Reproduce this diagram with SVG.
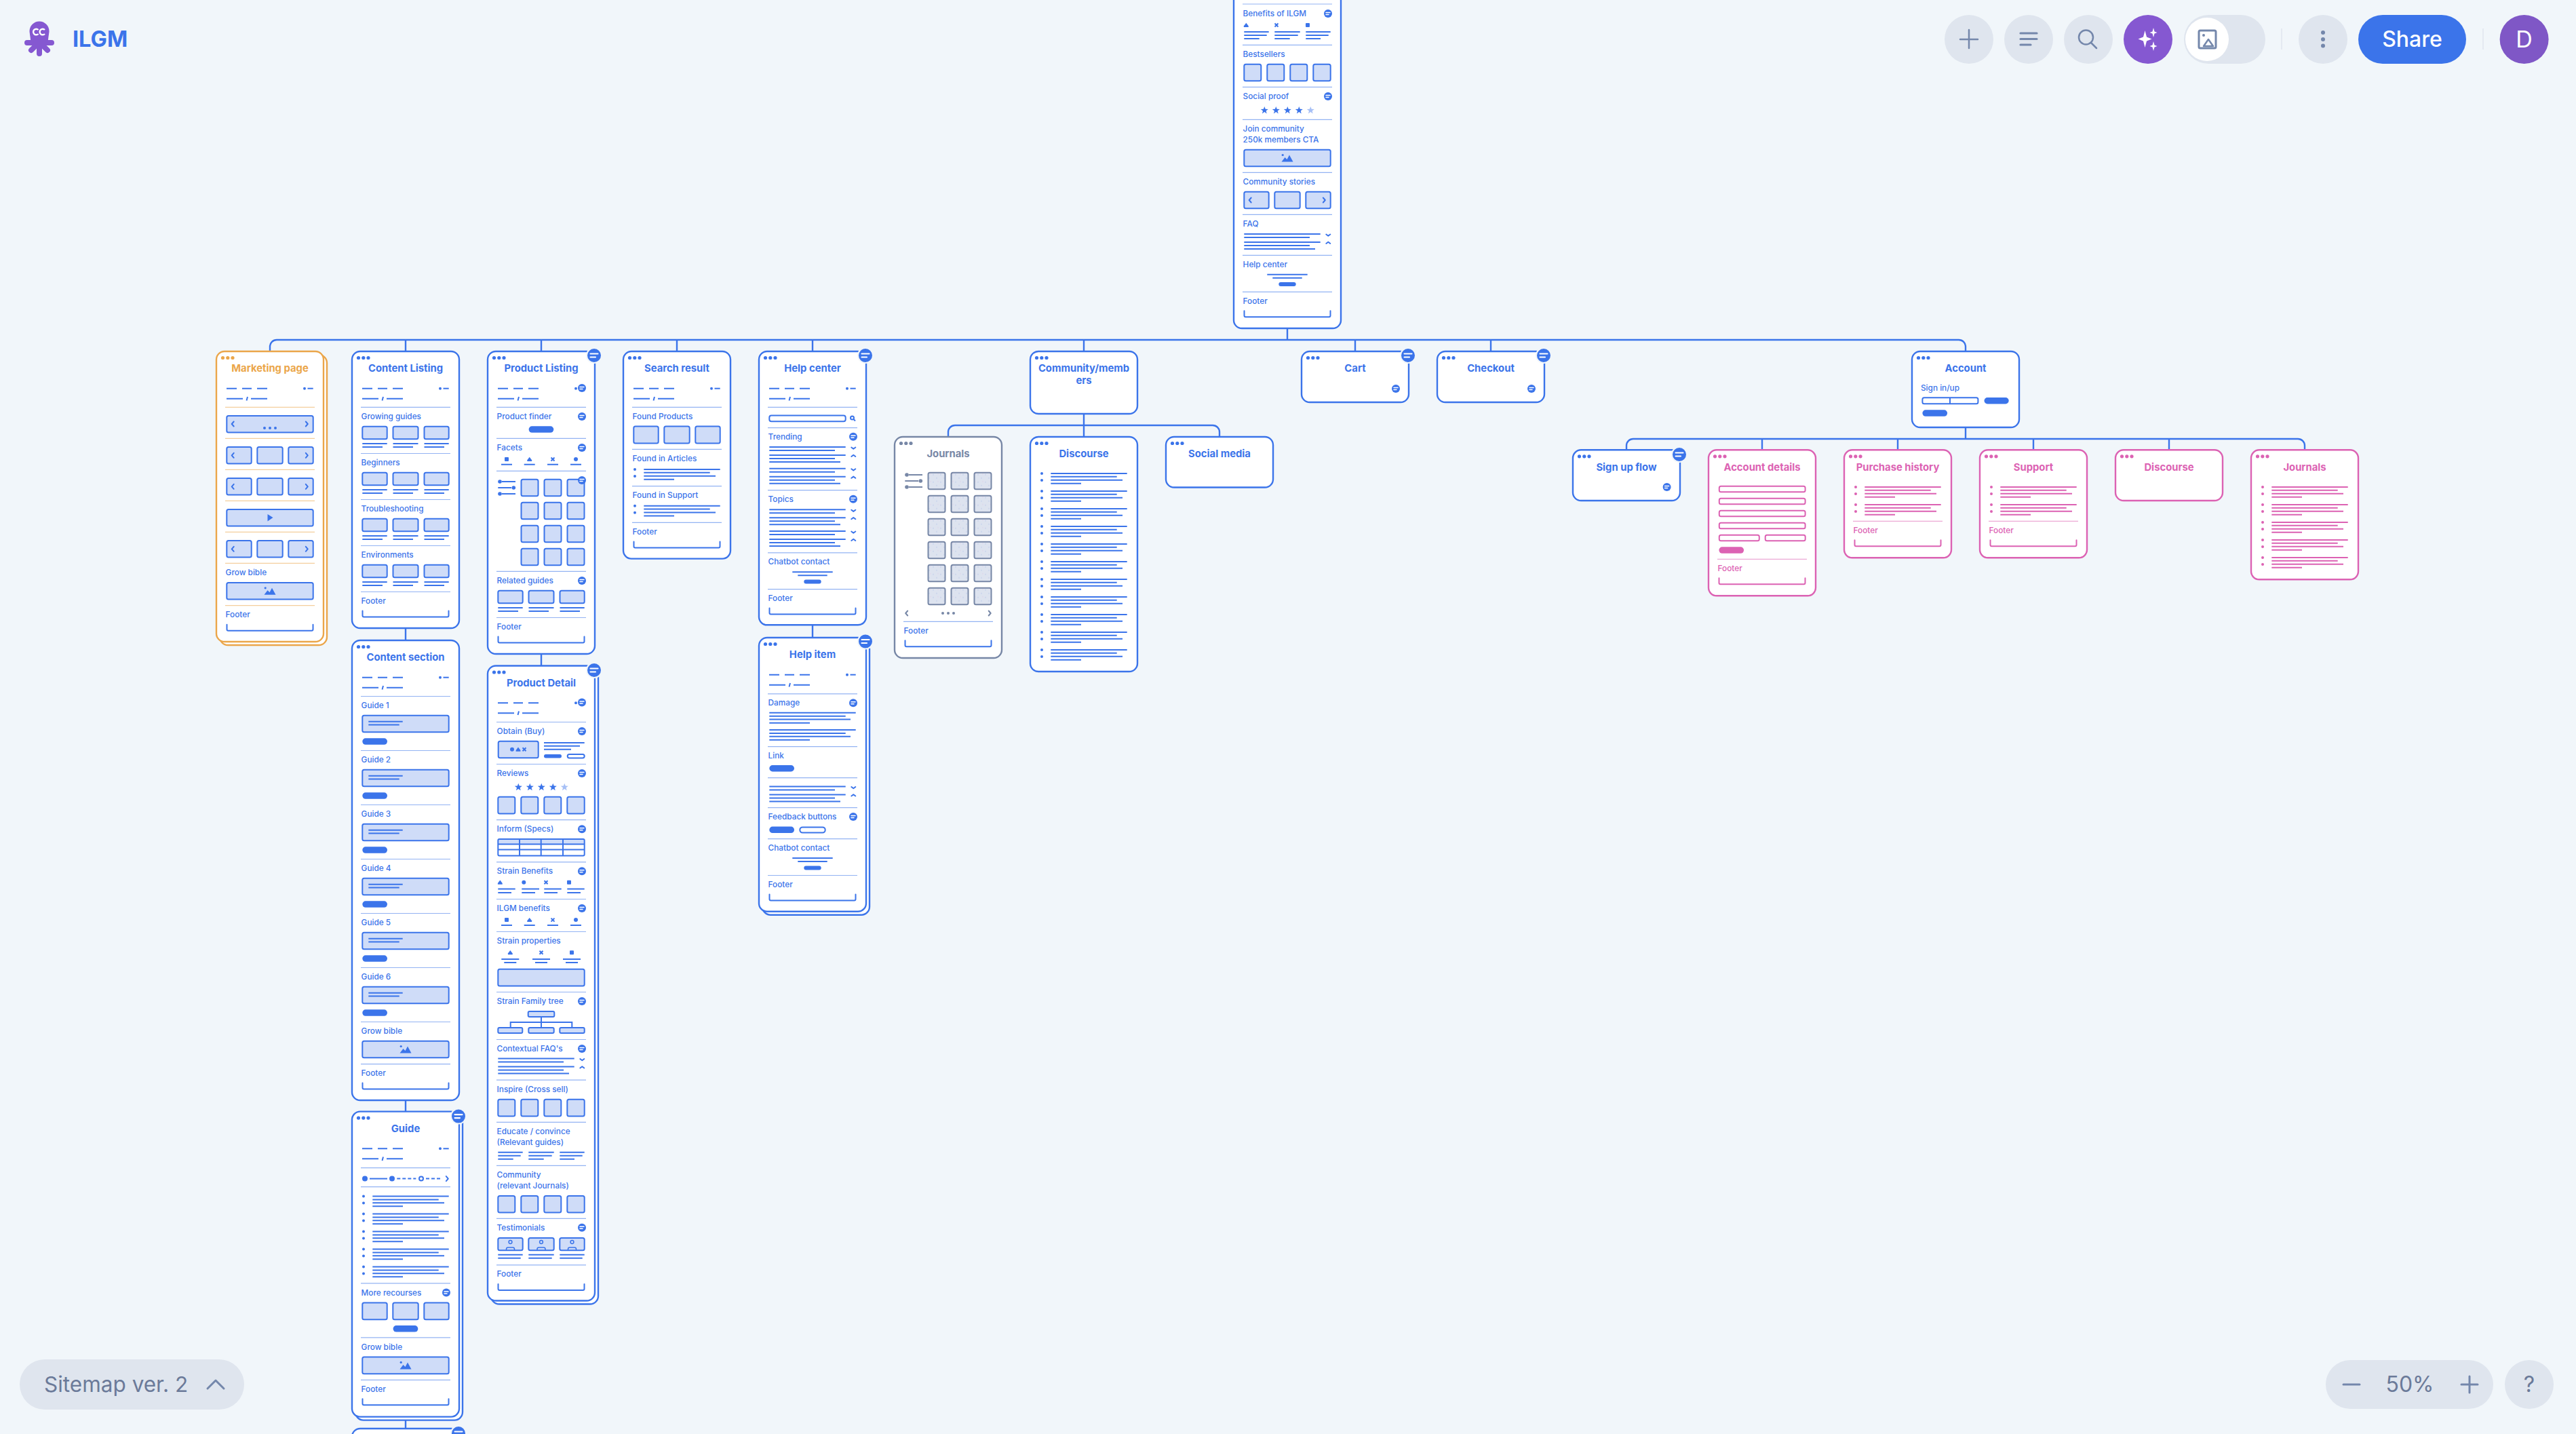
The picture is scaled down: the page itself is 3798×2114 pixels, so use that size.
<svg xmlns="http://www.w3.org/2000/svg" width="3798" height="2114" viewBox="0 0 3798 2114">
<style>
svg{color:#3b74ea;font-family:Inter,"Noto Sans",sans-serif}
text{font-family:Inter,"Noto Sans",sans-serif}
.t{font-size:14.8px;font-weight:700;text-anchor:middle;fill:currentColor}
.l{font-size:11.8px;font-weight:500;fill:#3b74ea}
.p{fill:currentColor;font-size:11.8px;font-weight:500}
.c{fill:#fff;stroke:currentColor;stroke-width:2.4}
.k{fill:none;stroke:currentColor;stroke-width:2;stroke-linecap:round;stroke-linejoin:round}
.h{fill:none;stroke:currentColor;stroke-width:2}
.f{fill:currentColor}
.b{fill:var(--bf,#cfdcf8);stroke:currentColor;stroke-width:2}
.s{stroke:currentColor;stroke-opacity:.55;stroke-width:1.2;fill:none}
.w{fill:none;stroke:#fff;stroke-linecap:round}
.u{fill:#dfe5ee}
.m{fill:none;stroke:#7487ab;stroke-linecap:round;stroke-linejoin:round}
</style>
<defs>
<g id="d" class="f"><circle cx="9.5" cy="9.5" r="2.6"/><circle cx="16.8" cy="9.5" r="2.6"/><circle cx="24" cy="9.5" r="2.6"/></g>
<path id="sep" class="s" d="M13 0H145"/>
<g id="navl" class="h"><path d="M15 54.7H30M38 54.7H52M60 54.7H75M15 69.7H39M51 69.7H75M46 67l-1.5 5.5"/></g>
<g id="nav"><use href="#navl"/><circle class="f" cx="130" cy="54.7" r="2"/><path class="h" d="M134.5 54.7H142.7"/></g>
<path id="br" class="k" d="M15.5 28v7a2 2 0 0 0 2 2h123a2 2 0 0 0 2-2v-7"/>
<g id="bub"><circle class="f" r="6"/><path class="w" stroke-width="1.5" d="M-3 -1.5H3M-3 1.5H1"/></g>
<g id="Bub"><circle r="11" fill="#3b74ea" stroke="#f1f6fa" stroke-width="2"/><path class="w" stroke-width="2.2" d="M-5.5 -2.5H5.5M-5.5 2.5H2"/></g>
<g id="r3a"><rect class="b" x="15.3" y="0" width="36.4" height="18.6" rx="2.5"/><rect class="b" x="60.5" y="0" width="37" height="18.6" rx="2.5"/><rect class="b" x="106.5" y="0" width="36.2" height="18.6" rx="2.5"/><path class="h" d="M15.3 25.3H51.7M15.3 30.3H45M60.5 25.3H97.5M60.5 30.3H90M106.5 25.3H142.7M106.5 30.3H136"/></g>
<g id="b3"><rect class="b" x="15.3" y="0" width="36.4" height="24.6" rx="2.5"/><rect class="b" x="60.3" y="0" width="37.4" height="24.6" rx="2.5"/><rect class="b" x="106.3" y="0" width="36.4" height="24.6" rx="2.5"/></g>
<g id="b4"><rect class="b" x="15.3" y="0" width="25" height="24.6" rx="2.5"/><rect class="b" x="49.3" y="0" width="25" height="24.6" rx="2.5"/><rect class="b" x="83.3" y="0" width="25" height="24.6" rx="2.5"/><rect class="b" x="117.3" y="0" width="25.4" height="24.6" rx="2.5"/></g>
<rect id="wide" class="b" x="15.3" y="0" width="127.4" height="24.6" rx="2.5"/>
<path id="chl" class="k" d="M1.5 -3.5L-1.5 0L1.5 3.5"/>
<path id="chr" class="k" d="M-1.5 -3.5L1.5 0L-1.5 3.5"/>
<path id="chd" class="k" d="M-3 -1L0 1.2L3 -1"/>
<path id="chu" class="k" d="M-3 1L0 -1.2L3 1"/>
<g id="car"><use href="#b3"/><use href="#chl" x="24.2" y="12.3"/><use href="#chr" x="133.3" y="12.3"/></g>
<g id="img" class="f"><circle cx="-6.8" cy="-4.5" r="1.6"/><path d="M-8.5 5.5L-3.5 -1L-0.5 2L3 -4.5L8.5 5.5Z"/></g>
<g id="wimg"><use href="#wide"/><use href="#img" x="79" y="12.3"/></g>
<g id="pg" class="f"><circle cx="71" r="2"/><circle cx="79" r="2"/><circle cx="87" r="2"/></g>
<g id="btn"><rect class="f" width="36.7" height="9.5" rx="4.7"/></g>
<g id="btn2"><rect class="f" width="25.4" height="6" rx="3"/></g>
<g id="t3" class="h"><path d="M15.3 0H51.7M15.3 5H48.7M15.3 10H37.7M60.3 0H97.7M60.3 5H94.7M60.3 10H82.7M106.3 0H142.7M106.3 5H139.7M106.3 10H128"/></g>
<g id="faq"><path class="h" d="M15.3 0H127.7M15.3 5H112M15.3 12H127.7M15.3 17H112M15.3 22H120"/><use href="#chd" x="139.3" y="1.5"/><use href="#chu" x="139.3" y="13"/></g>
<g id="list"><circle class="f" cx="17" cy="0" r="2"/><circle class="f" cx="17" cy="10" r="2"/><path class="h" d="M30.3 0H142.7M30.3 4.8H127.7M30.3 9.7H136M30.3 14.7H75"/></g>
<g id="chat"><path class="h" d="M49.3 28.4H108.7M57.3 33.4H100.7"/><use href="#btn2" x="66.3" y="39.7"/></g>
<g id="star"><polygon points="0,-5.8 1.41,-1.94 5.52,-1.79 2.28,0.74 3.41,4.69 0,2.4 -3.41,4.69 -2.28,0.74 -5.52,-1.79 -1.41,-1.94"/></g>
<g id="stars" class="f"><use href="#star" x="45.3"/><use href="#star" x="62.3"/><use href="#star" x="79.3"/><use href="#star" x="96.3"/><use href="#star" x="113.3" fill-opacity=".45"/></g>
<g id="flt"><path class="h" d="M21 0H41M15.3 9H35M21 18H41"/><circle class="f" cx="18" cy="0" r="2.8"/><circle class="f" cx="38.3" cy="9" r="2.8"/><circle class="f" cx="18" cy="18" r="2.8"/></g>
<g id="g1"><rect class="b" x="49.5" width="25" height="24.6" rx="2.5"/><rect class="b" x="83.5" width="25" height="24.6" rx="2.5"/><rect class="b" x="117.5" width="25" height="24.6" rx="2.5"/></g>
<rect id="ic1" class="f" x="-3" y="-3" width="6" height="6" rx="1"/>
<path id="ic2" class="f" d="M-3.4 3L-3.4 1.2L0 -3.2L3.4 1.2V3Z"/>
<path id="ic3" fill="none" stroke="currentColor" stroke-width="2" d="M-2.5 -2.5L2.5 2.5M2.5 -2.5L-2.5 2.5"/>
<circle id="ic4" class="f" r="3"/>
<g id="guide"><rect class="b" x="15.3" y="28.2" width="127.4" height="24.6" rx="2.5"/><path class="h" d="M24.3 37.2H74.7M24.3 42.1H69.7"/><use href="#btn" x="15.3" y="61.8"/></g>
<pattern id="noise" width="11" height="11" patternUnits="userSpaceOnUse"><rect width="11" height="11" fill="#dde3ef"/><circle cx="2" cy="3" r=".5" fill="#8fa8e8"/><circle cx="7" cy="8" r=".5" fill="#8fa8e8"/><circle cx="9" cy="2" r=".4" fill="#e49fd0"/></pattern>
</defs>

<rect width="3798" height="2114" fill="#f1f6fa"/>

<g id="connectors" fill="none" stroke="#3b74ea" stroke-width="2.4">
<path d="M398 518V511a10 10 0 0 1 10-10H2888a10 10 0 0 1 10 10V518"/>
<path d="M1898 484V501M598 501V518M798 501V518M998 501V518M1198 501V518M1598 501V518M1998 501V518M2198 501V518"/>
<path d="M598 926V944M598 1622V1639M598 2088V2106M798 964V982M1198 921V940"/>
<path d="M1598 610V644M1398 644V637a10 10 0 0 1 10-10H1788a10 10 0 0 1 10 10V644"/>
<path d="M2898 630V647M2398 663V657a10 10 0 0 1 10-10H3388a10 10 0 0 1 10 10V663M2598 647V663M2798 647V663M2998 647V663M3198 647V663"/>
</g>

<g id="chrome-logo">
<g fill="#8558d1"><circle cx="58" cy="46" r="14.5"/><path d="M44 50H72L70 66H46Z"/></g>
<path d="M40 63H76M58 62V79M58 62L46 74M58 62L70 74" stroke="#8558d1" stroke-width="8" stroke-linecap="round" fill="none"/>
<path d="M56.5 44a4.3 4.3 0 1 0 0 6M66 44a4.3 4.3 0 1 0 0 6" fill="none" stroke="#fff" stroke-width="2.4"/>
<text x="107" y="69" font-size="32.5" font-weight="700" fill="#3b74ea">ILGM</text>
</g>

<g id="toolbar">
<circle class="u" cx="2903" cy="58" r="36"/><path class="m" stroke-width="2.5" d="M2890 58H2916M2903 44V71"/>
<circle class="u" cx="2991" cy="58" r="36"/><path class="m" stroke-width="3.2" d="M2979 49H3003M2979 57.5H3003M2979 66H2994"/>
<circle class="u" cx="3079" cy="58" r="36"/><circle class="m" stroke-width="2.5" cx="3075.5" cy="55" r="10.5"/><path class="m" stroke-width="2.5" d="M3083 63L3091 71"/>
<circle cx="3167" cy="58" r="36" fill="#8558d1"/>
<path fill="#fff" d="M3162.5 45L3165 54.5L3172.5 57.5L3165 60.5L3162.5 70L3160 60.5L3152.5 57.5L3160 54.5Z M3175 41L3176.5 46.5L3180.5 48L3176.5 49.5L3175 55L3173.5 49.5L3169.5 48L3173.5 46.5Z M3175 61L3176.5 66.5L3180.5 68L3176.5 69.5L3175 75L3173.5 69.5L3169.5 68L3173.5 66.5Z"/>
<rect class="u" x="3220" y="22" width="120" height="72" rx="36"/><circle cx="3254" cy="58" r="32" fill="#fff"/>
<rect class="m" stroke-width="3" x="3242" y="45" width="25" height="26" rx="2"/><circle cx="3249" cy="52" r="2" fill="#7487ab"/><path class="m" stroke-width="2.5" d="M3249 68L3256 58L3263 68Z"/>
<path d="M3364 42V73M3661 42V73" stroke="#dfe5ee" stroke-width="1.5"/>
<circle class="u" cx="3425" cy="58" r="36"/><g fill="#7487ab"><circle cx="3425" cy="48" r="3"/><circle cx="3425" cy="58" r="3"/><circle cx="3425" cy="67.5" r="3"/></g>
<rect x="3477" y="22" width="159" height="72" rx="36" fill="#3b74ea"/>
<text x="3556.5" y="69" font-size="32" font-weight="500" fill="#fff" text-anchor="middle">Share</text>
<circle cx="3721.6" cy="58" r="36" fill="#7f57c6"/>
<text x="3721.6" y="70" font-size="34" fill="#fff" text-anchor="middle">D</text>
</g>

<g id="n-home" transform="translate(1819,0)">
<rect class="c" x="0" y="-100" width="158" height="584" rx="12"/>
<use href="#sep" y="6"/><text class="l" x="13.6" y="24">Benefits of ILGM</text><use href="#bub" x="139" y="20"/>
<use href="#ic2" x="18.3" y="37"/><use href="#ic3" x="63" y="37"/><use href="#ic1" x="109" y="37"/><use href="#t3" y="47"/>
<use href="#sep" y="66.3"/><text class="l" x="13.6" y="84">Bestsellers</text><use href="#b4" y="94.7"/>
<use href="#sep" y="128.3"/><text class="l" x="13.6" y="146">Social proof</text><use href="#bub" x="139" y="142"/><use href="#stars" y="162.7"/>
<use href="#sep" y="176.3"/><text class="l" x="13.6" y="194">Join community</text><text class="l" x="13.6" y="210">250k members CTA</text><use href="#wimg" y="220.7"/>
<use href="#sep" y="254.3"/><text class="l" x="13.6" y="272">Community stories</text><use href="#car" y="282.7"/>
<use href="#sep" y="316.3"/><text class="l" x="13.6" y="334">FAQ</text><use href="#faq" y="345"/>
<use href="#sep" y="376.3"/><text class="l" x="13.6" y="394">Help center</text><use href="#chat" y="376.3"/>
<use href="#sep" y="430.3"/><text class="l" x="13.6" y="448">Footer</text><use href="#br" y="430.3"/>
</g>

<g id="n-marketing" transform="translate(319,518)" style="color:#eba64a">
<rect class="c" x="5" y="5" width="158" height="428" rx="12"/>
<rect class="c" width="158" height="428" rx="12"/>
<use href="#d"/><text class="t" x="79" y="30">Marketing page</text>
<g style="color:#3b74ea"><use href="#nav"/>
<use href="#wide" y="95"/><use href="#chl" x="24.2" y="107"/><use href="#chr" x="133.3" y="107"/><use href="#pg" y="113"/>
<use href="#car" y="141"/><use href="#car" y="187"/>
<use href="#wide" y="233"/><path class="f" d="M75.5 240L83.5 245L75.5 250.5Z"/>
<use href="#car" y="279"/>
<use href="#wimg" y="341"/><use href="#br" y="374.7"/></g>
<use href="#sep" y="82.3"/><use href="#sep" y="128.3"/><use href="#sep" y="174.3"/><use href="#sep" y="220.3"/><use href="#sep" y="266.3"/><use href="#sep" y="312.3"/><use href="#sep" y="374.7"/>
<text class="l" x="13.6" y="329.8">Grow bible</text><text class="l" x="13.6" y="392.2">Footer</text>
</g>

<g id="n-content-listing" transform="translate(519,518)">
<rect class="c" width="158" height="408" rx="12"/>
<use href="#d"/><text class="t" x="79" y="30">Content Listing</text><use href="#nav"/>
<use href="#sep" y="82.3"/><text class="l" x="13.6" y="99.8">Growing guides</text><use href="#r3a" y="110.7"/>
<use href="#sep" y="150.5"/><text class="l" x="13.6" y="168">Beginners</text><use href="#r3a" y="178.7"/>
<use href="#sep" y="218.5"/><text class="l" x="13.6" y="236">Troubleshooting</text><use href="#r3a" y="246.7"/>
<use href="#sep" y="286.5"/><text class="l" x="13.6" y="304">Environments</text><use href="#r3a" y="314.7"/>
<use href="#sep" y="354.5"/><text class="l" x="13.6" y="372">Footer</text><use href="#br" y="354.5"/>
</g>

<g id="n-content-section" transform="translate(519,944)">
<rect class="c" width="158" height="678" rx="12"/>
<use href="#d"/><text class="t" x="79" y="30">Content section</text><use href="#nav"/>
<use href="#sep" y="82.5"/><text class="l" x="13.6" y="100">Guide 1</text><use href="#guide" y="82.5"/>
<use href="#sep" y="162.5"/><text class="l" x="13.6" y="180">Guide 2</text><use href="#guide" y="162.5"/>
<use href="#sep" y="242.5"/><text class="l" x="13.6" y="260">Guide 3</text><use href="#guide" y="242.5"/>
<use href="#sep" y="322.5"/><text class="l" x="13.6" y="340">Guide 4</text><use href="#guide" y="322.5"/>
<use href="#sep" y="402.5"/><text class="l" x="13.6" y="420">Guide 5</text><use href="#guide" y="402.5"/>
<use href="#sep" y="482.5"/><text class="l" x="13.6" y="500">Guide 6</text><use href="#guide" y="482.5"/>
<use href="#sep" y="562.5"/><text class="l" x="13.6" y="580">Grow bible</text><use href="#wimg" y="590.7"/>
<use href="#sep" y="624.6"/><text class="l" x="13.6" y="642">Footer</text><use href="#br" y="624.6"/>
</g>

<g id="n-guide" transform="translate(519,1638.6)">
<rect class="c" x="5" y="5" width="158" height="450" rx="12"/>
<rect class="c" width="158" height="450" rx="12"/>
<use href="#d"/><text class="t" x="79" y="30">Guide</text><use href="#nav"/>
<use href="#sep" y="83"/>
<circle class="f" cx="19" cy="99" r="4"/><path class="h" d="M26 99H52"/><circle class="f" cx="59" cy="99" r="4"/><path class="h" stroke-dasharray="5 3" d="M66.3 99H94.3M109 99H131"/><circle class="h" cx="102" cy="99" r="3"/><use href="#chr" x="140.3" y="99"/>
<use href="#sep" y="111"/>
<use href="#list" y="125"/><use href="#list" y="151"/><use href="#list" y="177"/><use href="#list" y="203"/><use href="#list" y="229"/>
<use href="#sep" y="253.3"/><text class="l" x="13.6" y="271">More recourses</text><use href="#bub" x="139" y="267"/><use href="#b3" y="282"/><use href="#btn" x="60.6" y="315.5"/>
<use href="#sep" y="333.3"/><text class="l" x="13.6" y="351">Grow bible</text><use href="#wimg" y="362"/>
<use href="#sep" y="395.7"/><text class="l" x="13.6" y="413">Footer</text><use href="#br" y="395.7"/>
<use href="#Bub" x="157" y="7"/>
</g>

<g id="n-next" transform="translate(519,2106)">
<rect class="c" width="158" height="60" rx="12"/>
<use href="#Bub" x="157" y="7"/>
</g>

<g id="n-product-listing" transform="translate(719,518)">
<rect class="c" width="158" height="446" rx="12"/>
<use href="#d"/><text class="t" x="79" y="30">Product Listing</text><use href="#navl"/><circle class="f" cx="130" cy="54.7" r="2"/><use href="#bub" x="139" y="54"/>
<use href="#sep" y="82.3"/><text class="l" x="13.6" y="99.8">Product finder</text><use href="#bub" x="139" y="96"/><use href="#btn" x="60.6" y="110.3"/>
<use href="#sep" y="128.3"/><text class="l" x="13.6" y="145.8">Facets</text><use href="#bub" x="139" y="142"/>
<use href="#ic1" x="28" y="159"/><use href="#ic2" x="61.7" y="159"/><use href="#ic3" x="96" y="159"/><use href="#ic4" x="130" y="159"/>
<path class="h" d="M20 166.7H36M53.7 166.7H69.7M88 166.7H104M122 166.7H138"/>
<use href="#sep" y="176.3"/><use href="#flt" y="192"/>
<use href="#g1" y="188.7"/><use href="#g1" y="222.7"/><use href="#g1" y="256.7"/><use href="#g1" y="290.7"/><use href="#bub" x="139" y="190"/>
<use href="#sep" y="324.3"/><text class="l" x="13.6" y="341.8">Related guides</text><use href="#bub" x="139" y="338"/><use href="#r3a" y="352.7"/>
<use href="#sep" y="392.5"/><text class="l" x="13.6" y="410">Footer</text><use href="#br" y="392.5"/>
<use href="#Bub" x="157" y="6"/>
</g>

<g id="n-product-detail" transform="translate(719,981.5)">
<rect class="c" x="5" y="5" width="158" height="936" rx="12"/>
<rect class="c" width="158" height="936" rx="12"/>
<use href="#d"/><text class="t" x="79" y="30">Product Detail</text><use href="#navl"/><circle class="f" cx="130" cy="54.7" r="2"/><use href="#bub" x="139" y="54"/>
<use href="#sep" y="83"/><text class="l" x="13.6" y="100.5">Obtain (Buy)</text><use href="#bub" x="139" y="96.5"/>
<rect class="b" x="15.7" y="111.2" width="59" height="24.5" rx="2.5"/><use href="#ic4" x="36" y="123.2"/><use href="#ic2" x="45" y="123.2"/><use href="#ic3" x="54" y="123.2"/>
<path class="h" d="M83 113.4H142.7M83 118.3H136M83 123.2H123"/><rect class="f" x="83" y="130.5" width="26" height="5.5" rx="2.7"/><rect class="h" x="117.7" y="130.5" width="25" height="5.5" rx="2.7"/>
<use href="#sep" y="145"/><text class="l" x="13.6" y="162.5">Reviews</text><use href="#bub" x="139" y="158.5"/><use href="#stars" y="179"/><use href="#b4" y="193.3"/>
<use href="#sep" y="227.2"/><text class="l" x="13.6" y="244.7">Inform (Specs)</text><use href="#bub" x="139" y="240.7"/>
<rect x="15.3" y="255.4" width="127.4" height="7.6" fill="#cfdcf8"/><rect class="h" x="15.3" y="255.4" width="127.4" height="24.5" rx="2"/><path class="h" d="M15.3 263H142.7M15.3 271H142.7M47 255.4V279.9M78.7 255.4V279.9M111 255.4V279.9"/>
<use href="#sep" y="289.3"/><text class="l" x="13.6" y="306.8">Strain Benefits</text><use href="#bub" x="139" y="302.8"/>
<use href="#ic2" x="18.3" y="319.2"/><use href="#ic4" x="53.3" y="319.2"/><use href="#ic3" x="86" y="319.2"/><use href="#ic1" x="120" y="319.2"/>
<path class="h" d="M15.3 329H40.7M15.3 334.4H35M50.3 329H76M50.3 334.4H70M83.3 329H108.7M83.3 334.4H103M117.3 329H142.7M117.3 334.4H137"/>
<use href="#sep" y="344"/><text class="l" x="13.6" y="361.5">ILGM benefits</text><use href="#bub" x="139" y="357.5"/>
<use href="#ic1" x="28" y="374.6"/><use href="#ic2" x="61.7" y="374.6"/><use href="#ic3" x="96" y="374.6"/><use href="#ic4" x="130" y="374.6"/>
<path class="h" d="M20 382.6H36M53.7 382.6H69.7M88 382.6H104M122 382.6H138"/>
<use href="#sep" y="392"/><text class="l" x="13.6" y="409.5">Strain properties</text>
<use href="#ic2" x="33.3" y="422.8"/><use href="#ic3" x="79" y="422.8"/><use href="#ic1" x="124" y="422.8"/>
<path class="h" d="M20.3 432.6H46.3M24.3 437.5H42.3M66 432.6H92M70 437.5H88M111 432.6H137M115 437.5H133"/>
<use href="#wide" y="447.3"/>
<use href="#sep" y="481"/><text class="l" x="13.6" y="498.5">Strain Family tree</text><use href="#bub" x="139" y="494.5"/>
<path class="h" d="M79 517V533.5M33.7 533.5V525.5H124.3V533.5"/>
<rect class="b" x="59.7" y="509.4" width="38.6" height="8" rx="2"/><rect class="b" x="15.3" y="533.5" width="36" height="8" rx="2"/><rect class="b" x="60.3" y="533.5" width="37.4" height="8" rx="2"/><rect class="b" x="106.3" y="533.5" width="36.4" height="8" rx="2"/>
<use href="#sep" y="551"/><text class="l" x="13.6" y="568.5">Contextual FAQ's</text><use href="#bub" x="139" y="564.5"/><use href="#faq" y="579"/>
<use href="#sep" y="610.7"/><text class="l" x="13.6" y="628.2">Inspire (Cross sell)</text><use href="#b4" y="639.3"/>
<use href="#sep" y="672.8"/><text class="l" x="13.6" y="690.5">Educate / convince</text><text class="l" x="13.6" y="706.7">(Relevant guides)</text><use href="#t3" y="717.3"/>
<use href="#sep" y="736.9"/><text class="l" x="13.6" y="754.4">Community</text><text class="l" x="13.6" y="770.6">(relevant Journals)</text><use href="#b4" y="781.4"/>
<use href="#sep" y="814.8"/><text class="l" x="13.6" y="832.3">Testimonials</text><use href="#bub" x="139" y="828.3"/>
<g><rect class="b" x="15.3" y="843.4" width="36.4" height="18.4" rx="2.5"/><rect class="b" x="60.3" y="843.4" width="37.4" height="18.4" rx="2.5"/><rect class="b" x="106.3" y="843.4" width="36.4" height="18.4" rx="2.5"/>
<g class="k" style="stroke-width:1.5"><circle cx="33.5" cy="849.5" r="2.4"/><circle cx="79" cy="849.5" r="2.4"/><circle cx="124.5" cy="849.5" r="2.4"/><path d="M27.5 861v-1a2.5 2.5 0 0 1 2.5-2.5h7a2.5 2.5 0 0 1 2.5 2.5v1M73 861v-1a2.5 2.5 0 0 1 2.5-2.5h7a2.5 2.5 0 0 1 2.5 2.5v1M118.5 861v-1a2.5 2.5 0 0 1 2.5-2.5h7a2.5 2.5 0 0 1 2.5 2.5v1"/></g></g>
<path class="h" d="M15.3 868.3H51.7M15.3 873.2H48.7M60.3 868.3H97.7M60.3 873.2H94.7M106.3 868.3H142.7M106.3 873.2H139.7"/>
<use href="#sep" y="883.4"/><text class="l" x="13.6" y="900.9">Footer</text><use href="#br" y="883.4"/>
<use href="#Bub" x="157" y="6.5"/>
</g>

<g id="n-search" transform="translate(919,518)">
<rect class="c" width="158" height="305.6" rx="12"/>
<use href="#d"/><text class="t" x="79" y="30">Search result</text><use href="#nav"/>
<use href="#sep" y="82.4"/><text class="l" x="13.6" y="99.9">Found Products</text><rect class="b" x="15.3" y="110.4" width="36.4" height="25" rx="2.5"/><rect class="b" x="60.3" y="110.4" width="37.4" height="25" rx="2.5"/><rect class="b" x="106.3" y="110.4" width="36.4" height="25" rx="2.5"/>
<use href="#sep" y="144.4"/><text class="l" x="13.6" y="161.9">Found in Articles</text><use href="#list" y="174"/>
<use href="#sep" y="198.7"/><text class="l" x="13.6" y="216.2">Found in Support</text><use href="#list" y="227.7"/>
<use href="#sep" y="252.4"/><text class="l" x="13.6" y="269.9">Footer</text><use href="#br" y="252.4"/>
</g>

<g id="n-help-center" transform="translate(1119,518)">
<rect class="c" width="158" height="403.3" rx="12"/>
<use href="#d"/><text class="t" x="79" y="30">Help center</text><use href="#nav"/>
<use href="#sep" y="82.4"/><rect class="h" x="15.3" y="94.5" width="112.4" height="8.7" rx="3"/><circle class="h" cx="137.5" cy="98" r="2.5"/><path class="h" d="M139.5 100L142 102.5"/>
<use href="#sep" y="112.6"/><text class="l" x="13.6" y="130">Trending</text><use href="#bub" x="139" y="125.7"/><use href="#faq" y="141"/><use href="#faq" y="172.8"/>
<use href="#sep" y="204.7"/><text class="l" x="13.6" y="222">Topics</text><use href="#bub" x="139" y="217.8"/><use href="#faq" y="233.2"/><use href="#faq" y="265"/>
<use href="#sep" y="296.9"/><text class="l" x="13.6" y="314.4">Chatbot contact</text><use href="#chat" y="296.9"/>
<use href="#sep" y="350.6"/><text class="l" x="13.6" y="368">Footer</text><use href="#br" y="350.6"/>
<use href="#Bub" x="157" y="6"/>
</g>

<g id="n-help-item" transform="translate(1119,940)">
<rect class="c" x="5" y="5" width="158" height="403.7" rx="12"/>
<rect class="c" width="158" height="403.7" rx="12"/>
<use href="#d"/><text class="t" x="79" y="30">Help item</text><use href="#nav"/>
<use href="#sep" y="82.8"/><text class="l" x="13.6" y="100.3">Damage</text><use href="#bub" x="139" y="96.3"/>
<path class="h" d="M15.3 110.7H142.7M15.3 115.7H127.7M15.3 120.6H135M15.3 125.8H75M15.3 136H142.7M15.3 141H127.7M15.3 145.8H135M15.3 150.8H75"/>
<use href="#sep" y="160.7"/><text class="l" x="13.6" y="178.2">Link</text><use href="#btn" x="15.3" y="188"/>
<use href="#sep" y="206.7"/><use href="#faq" y="219.5"/>
<use href="#sep" y="250.6"/><text class="l" x="13.6" y="268.1">Feedback buttons</text><use href="#bub" x="139" y="264.1"/><use href="#btn" x="15.3" y="278.6"/><rect class="h" x="60.3" y="279.4" width="37.4" height="8.2" rx="4"/>
<use href="#sep" y="296.7"/><text class="l" x="13.6" y="314.2">Chatbot contact</text><use href="#chat" y="296.7"/>
<use href="#sep" y="350.5"/><text class="l" x="13.6" y="368">Footer</text><use href="#br" y="350.5"/>
<use href="#Bub" x="157" y="5.5"/>
</g>

<g id="n-community" transform="translate(1519,518)">
<rect class="c" width="158" height="92" rx="12"/><use href="#d"/>
<text class="t" x="79" y="30">Community/memb</text><text class="t" x="79" y="48">ers</text>
</g>

<g id="n-journals" transform="translate(1319,644)" style="color:#7787a6;--bf:url(#noise)">
<rect class="c" width="158" height="326" rx="12"/><use href="#d"/>
<text class="t" x="79" y="30">Journals</text>
<use href="#flt" y="56"/>
<use href="#g1" y="52.7"/><use href="#g1" y="86.7"/><use href="#g1" y="120.7"/><use href="#g1" y="154.7"/><use href="#g1" y="188.7"/><use href="#g1" y="222.7"/>
<use href="#chl" x="17.7" y="260"/><use href="#chr" x="140.2" y="260"/><use href="#pg" y="260"/>
<g style="color:#3b74ea"><use href="#sep" y="272.3"/><text class="l" x="13.6" y="289.8">Footer</text><use href="#br" y="272.3"/></g>
</g>

<g id="n-discourse" transform="translate(1519,644)">
<rect class="c" width="158" height="346" rx="12"/><use href="#d"/>
<text class="t" x="79" y="30">Discourse</text>
<use href="#list" y="54"/><use href="#list" y="80"/><use href="#list" y="106"/><use href="#list" y="132"/><use href="#list" y="158"/><use href="#list" y="184"/><use href="#list" y="210"/><use href="#list" y="236"/><use href="#list" y="262"/><use href="#list" y="288"/><use href="#list" y="314"/>
</g>

<g id="n-social" transform="translate(1719,644)">
<rect class="c" width="158" height="74.5" rx="12"/><use href="#d"/>
<text class="t" x="79" y="30">Social media</text>
</g>

<g id="n-cart" transform="translate(1919,518)">
<rect class="c" width="158" height="75" rx="12"/><use href="#d"/>
<text class="t" x="79" y="30">Cart</text><use href="#bub" x="139" y="55"/><use href="#Bub" x="157" y="6"/>
</g>

<g id="n-checkout" transform="translate(2119,518)">
<rect class="c" width="158" height="75" rx="12"/><use href="#d"/>
<text class="t" x="79" y="30">Checkout</text><use href="#bub" x="139" y="55"/><use href="#Bub" x="157" y="6"/>
</g>

<g id="n-account" transform="translate(2819,518)">
<rect class="c" width="158" height="112" rx="12"/><use href="#d"/>
<text class="t" x="79" y="30">Account</text>
<text class="l" x="13" y="57.7">Sign in/up</text>
<rect class="h" x="15.4" y="68.3" width="82" height="9" rx="2.5"/><path class="h" d="M56 68.3V77.3"/>
<rect class="f" x="106.5" y="68" width="36.2" height="9.5" rx="4.7"/><use href="#btn" x="15.4" y="86.3"/>
</g>

<g id="n-signup" transform="translate(2319,663.3)">
<rect class="c" width="158" height="74.7" rx="12"/><use href="#d"/>
<text class="t" x="79" y="31">Sign up flow</text><use href="#bub" x="138.6" y="54.7"/><use href="#Bub" x="157" y="6.7"/>
</g>

<g id="n-account-details" transform="translate(2519,663.3)" style="color:#dc62b3">
<rect class="c" width="158" height="215" rx="12"/><use href="#d"/>
<text class="t" x="79" y="31">Account details</text>
<rect class="h" x="15.8" y="53.4" width="126.8" height="8.6" rx="2.5"/><rect class="h" x="15.8" y="71.4" width="126.8" height="8.6" rx="2.5"/><rect class="h" x="15.8" y="89.4" width="126.8" height="8.6" rx="2.5"/><rect class="h" x="15.8" y="107.4" width="126.8" height="8.6" rx="2.5"/>
<rect class="h" x="15.8" y="125.4" width="59" height="8.6" rx="2.5"/><rect class="h" x="83.7" y="125.4" width="59" height="8.6" rx="2.5"/>
<use href="#btn" x="15.4" y="143"/>
<use href="#sep" y="161"/><text class="p" x="13.6" y="178.5">Footer</text><use href="#br" y="161"/>
</g>

<g id="n-purchase" transform="translate(2719,663.3)" style="color:#dc62b3">
<rect class="c" width="158" height="159" rx="12"/><use href="#d"/>
<text class="t" x="79" y="31">Purchase history</text>
<use href="#list" y="54.7"/><use href="#list" y="80.7"/>
<use href="#sep" y="105"/><text class="p" x="13.6" y="122.5">Footer</text><use href="#br" y="105"/>
</g>

<g id="n-support" transform="translate(2919,663.3)" style="color:#dc62b3">
<rect class="c" width="158" height="159" rx="12"/><use href="#d"/>
<text class="t" x="79" y="31">Support</text>
<use href="#list" y="54.7"/><use href="#list" y="80.7"/>
<use href="#sep" y="105"/><text class="p" x="13.6" y="122.5">Footer</text><use href="#br" y="105"/>
</g>

<g id="n-discourse-2" transform="translate(3119,663.3)" style="color:#dc62b3">
<rect class="c" width="158" height="74.7" rx="12"/><use href="#d"/>
<text class="t" x="79" y="31">Discourse</text>
</g>

<g id="n-journals-2" transform="translate(3319,663.3)" style="color:#dc62b3">
<rect class="c" width="158" height="191" rx="12"/><use href="#d"/>
<text class="t" x="79" y="31">Journals</text>
<use href="#list" y="54.7"/><use href="#list" y="80.7"/><use href="#list" y="106.7"/><use href="#list" y="132.7"/><use href="#list" y="158.7"/>
</g>

<g id="bottom-left">
<rect class="u" x="29" y="2004" width="331" height="74" rx="37"/>
<text x="65" y="2052" font-size="31.5" fill="#6b7a99">Sitemap ver. 2</text>
<path class="m" stroke-width="3" d="M306 2047L318 2035L330 2047"/>
</g>
<g id="bottom-right">
<rect class="u" x="3429" y="2005" width="247" height="72" rx="36"/>
<path class="m" stroke-width="3" d="M3455 2041H3479M3629 2041H3653M3641 2029V2053"/>
<text x="3553" y="2052" font-size="32" fill="#6b7a99" text-anchor="middle">50%</text>
<circle class="u" cx="3729" cy="2041" r="36"/>
<text x="3729" y="2052" font-size="32" fill="#6b7a99" text-anchor="middle">?</text>
</g>
</svg>
